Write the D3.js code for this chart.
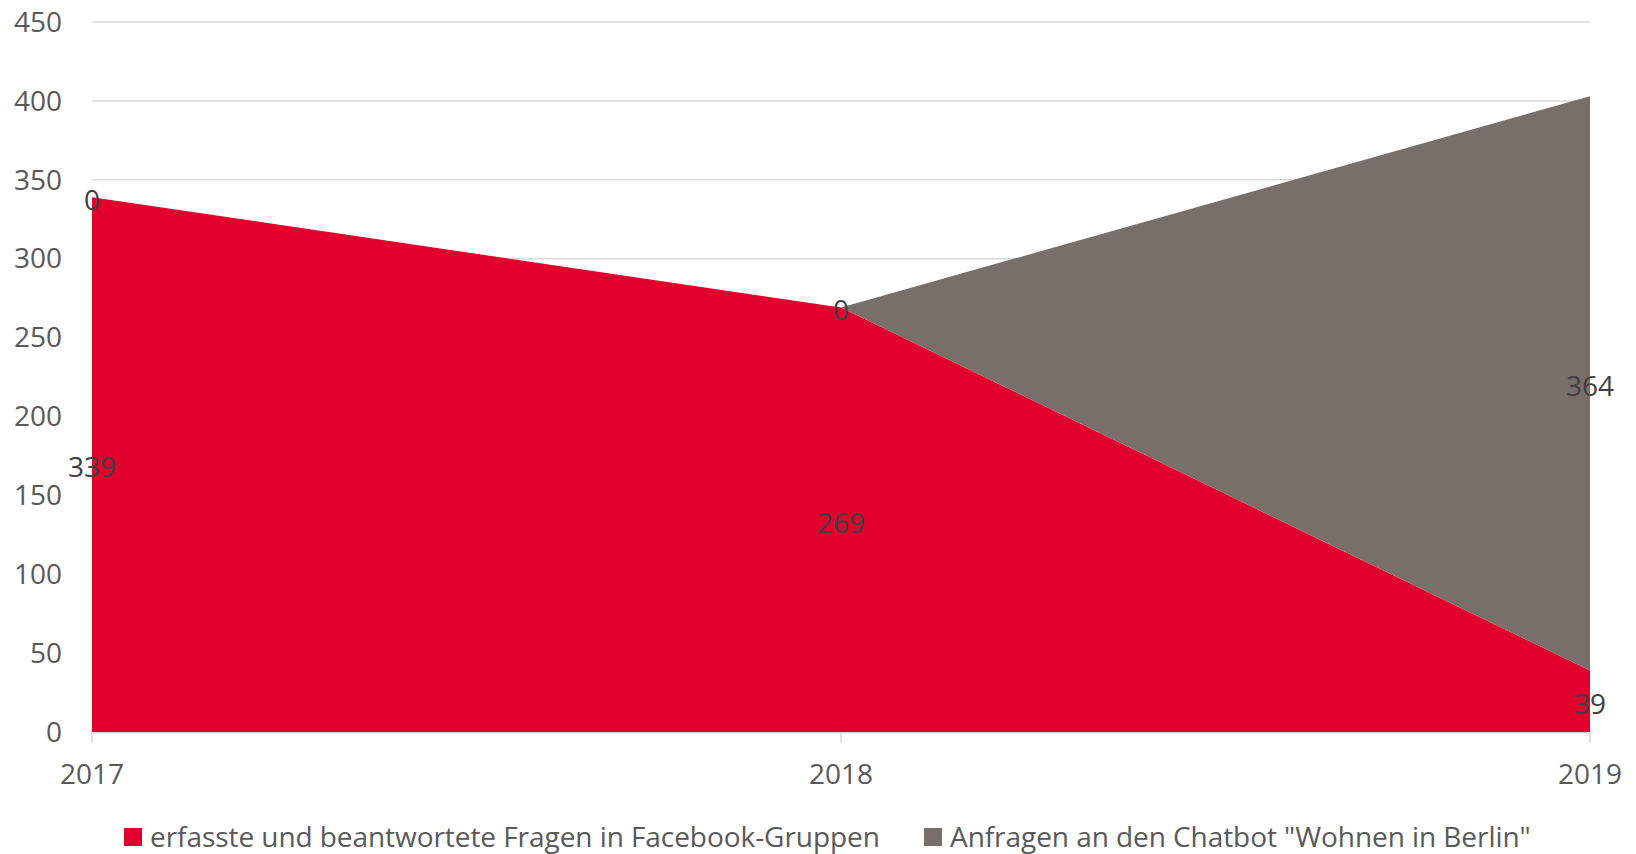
<!DOCTYPE html>
<html><head><meta charset="utf-8">
<script src="https://cdn.jsdelivr.net/npm/d3@7"></script>
<style>body{margin:0;background:#fff}svg{display:block}</style>
</head><body>
<svg id="c" width="1636" height="854"></svg>
<script>
const categories = ["2017", "2018", "2019"];
const seriesNames = ["erfasste und beantwortete Fragen in Facebook-Gruppen", "Anfragen an den Chatbot \"Wohnen in Berlin\""];
const facebookValues = [339, 269, 39];
const chatbotValues = [0, 0, 364];
const yTicks = [0, 50, 100, 150, 200, 250, 300, 350, 400, 450];
const colors = ["#E1002D", "#786F6A"];

const svg = d3.select("#c");
const font = "'Open Sans', sans-serif";
const x = d3.scalePoint().domain(categories).range([92, 1590]);
const y = d3.scaleLinear().domain([0, 450]).range([732, 22]);

const rows = categories.map((c, i) => ({cat: c, s0: facebookValues[i], s1: chatbotValues[i]}));
const stacked = d3.stack().keys(["s0", "s1"])(rows);

// gridlines
svg.append("g").selectAll("line").data(yTicks.filter(d => d > 0)).join("line")
  .attr("x1", 92).attr("x2", 1590)
  .attr("y1", d => y(d)).attr("y2", d => y(d))
  .attr("stroke", "#d9d9d9").attr("stroke-width", 1.5);

// areas
const area = d3.area().x(d => x(d.data.cat)).y0(d => y(d[0])).y1(d => y(d[1]));
svg.append("g").selectAll("path").data(stacked).join("path")
  .attr("d", area).attr("fill", (d, i) => colors[i]);

// x axis line + ticks
svg.append("line").attr("x1", 92).attr("x2", 1590).attr("y1", y(0) + 0.75).attr("y2", y(0) + 0.75)
  .attr("stroke", "#d9d9d9").attr("stroke-width", 1.5);
svg.append("g").selectAll("line").data(categories).join("line")
  .attr("x1", d => x(d)).attr("x2", d => x(d)).attr("y1", y(0)).attr("y2", y(0) + 11)
  .attr("stroke", "#d9d9d9").attr("stroke-width", 1.5);

// y labels
svg.append("g").selectAll("text").data(yTicks).join("text")
  .attr("x", 62).attr("y", d => y(d)).attr("dy", "0.35em")
  .attr("text-anchor", "end").attr("font-family", font).attr("font-size", 28)
  .attr("fill", "#595959").text(d => d);

// x labels
svg.append("g").selectAll("text").data(categories).join("text")
  .attr("x", d => x(d)).attr("y", 784)
  .attr("text-anchor", "middle").attr("font-family", font).attr("font-size", 28)
  .attr("fill", "#595959").text(d => d);

// data labels
stacked.forEach(s => {
  svg.append("g").selectAll("text").data(s).join("text")
    .attr("x", d => x(d.data.cat)).attr("y", d => y((d[0] + d[1]) / 2) + 3).attr("dy", "0.35em")
    .attr("text-anchor", "middle").attr("font-family", font).attr("font-size", 28)
    .attr("fill", "#404040").text(d => d[1] - d[0]);
});

// legend
const legendX = [124, 924];
const lg = svg.append("g").selectAll("g").data(seriesNames).join("g")
  .attr("transform", (d, i) => `translate(${legendX[i]},0)`);
lg.append("rect").attr("x", 0).attr("y", 828).attr("width", 18).attr("height", 18)
  .attr("fill", (d, i) => colors[i]);
lg.append("text").attr("x", 26).attr("y", 837).attr("dy", "0.35em")
  .attr("font-family", font).attr("font-size", 28).attr("letter-spacing", -0.06)
  .attr("fill", "#595959").text(d => d);
</script>
</body></html>
